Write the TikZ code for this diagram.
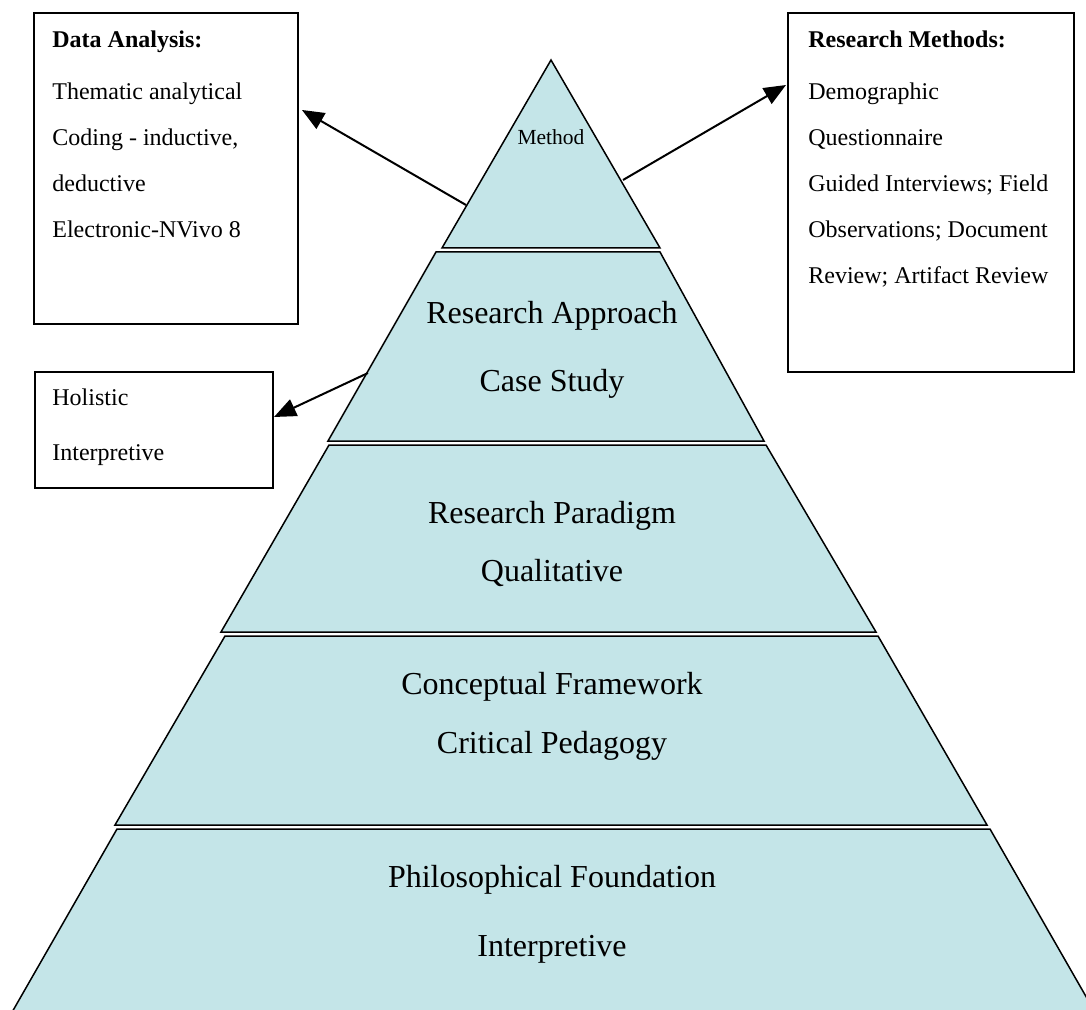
\documentclass[tikz,border=0pt]{standalone}
\usepackage{fontspec}
\setmainfont{Liberation Serif}
\usetikzlibrary{arrows.meta}
\definecolor{pyramidblue}{RGB}{196,229,232}

\begin{document}
\begin{tikzpicture}[%
    x=0.5pt,
    y=-0.5pt,
    >={Triangle[length=11pt,width=9pt]},
    level/.style={%
      fill=pyramidblue,
      draw=black,
      line width=0.75pt
    },
    leveltext/.style={%
      anchor=base,
      inner sep=0pt,
      font=\fontsize{16}{19}\selectfont
    },
    infobox/.style={%
      draw,
      line width=0.75pt,
      inner sep=0pt
    },
    infotext/.style={%
      anchor=base west,
      inner sep=0pt,
      font=\fontsize{12}{14}\selectfont
    },
    pointer/.style={%
      ->,
      line width=1pt
    }
  ]
    \clip (0,0) rectangle (1086,1010);

    % pyramid levels, top to bottom
    \filldraw[level] (551,60) -- (660,248) -- (442,248) -- cycle;
    \filldraw[level] (436,252) -- (660,252) -- (764,441) -- (328,441) -- cycle;
    \filldraw[level] (329,445) -- (766,445) -- (876,632) -- (221,632) -- cycle;
    \filldraw[level] (225,636) -- (878,636) -- (987,825) -- (115,825) -- cycle;
    \filldraw[level] (117,829) -- (990,829) -- (1096,1014) -- (11,1014) -- cycle;

    \node[leveltext, font=\fontsize{10.75}{13}\selectfont] (method) at (551,145) {Method};
    \foreach \name/\head/\sub/\ya/\yb in {%
        approach/Research Approach/Case Study/324/392,
        paradigm/Research Paradigm/Qualitative/523/581,
        framework/Conceptual Framework/Critical Pedagogy/694/753,
        foundation/Philosophical Foundation/Interpretive/887/956}
    {
      \node[leveltext] (\name-head) at (552,\ya) {\head};
      \node[leveltext] (\name-sub)  at (552,\yb) {\sub};
    }

    % side boxes
    \node[infobox, minimum width=132pt, minimum height=155.5pt] (analysis) at (166,168.5) {};
    \node[infobox, minimum width=143pt, minimum height=179.5pt] (methods)  at (931,192.5) {};
    \node[infobox, minimum width=119pt, minimum height=58pt]    (holistic) at (154,430)   {};

    \node[infotext, font=\fontsize{12}{14}\selectfont\bfseries] (analysis-0) at (52,48) {Data Analysis:};
    \foreach \txt/\y [count=\i] in {%
        Thematic analytical/100,
        {Coding - inductive,}/146,
        deductive/192,
        Electronic-NVivo 8/238}
      \node[infotext] (analysis-\i) at (52,\y) {\txt};

    \node[infotext, font=\fontsize{12}{14}\selectfont\bfseries] (methods-0) at (808,48) {Research Methods:};
    \foreach \txt/\y [count=\i] in {%
        Demographic/100,
        Questionnaire/146,
        Guided Interviews; Field/192,
        Observations; Document/238,
        Review; Artifact Review/284}
      \node[infotext] (methods-\i) at (808,\y) {\txt};

    \node[infotext] (holistic-1) at (52,406) {Holistic};
    \node[infotext] (holistic-2) at (52,460) {Interpretive};

    % arrows out of the pyramid
    \coordinate (method-left)    at (466,205);
    \coordinate (method-right)   at (623,180);
    \coordinate (approach-left)  at (368,373);
    \coordinate (analysis-tip)   at (302,110);
    \coordinate (methods-tip)    at (786,85);
    \coordinate (holistic-tip)   at (274,417);

    \path (method-left)   edge [pointer] (analysis-tip)
          (method-right)  edge [pointer] (methods-tip)
          (approach-left) edge [pointer] (holistic-tip);
  \end{tikzpicture}
\end{document}
